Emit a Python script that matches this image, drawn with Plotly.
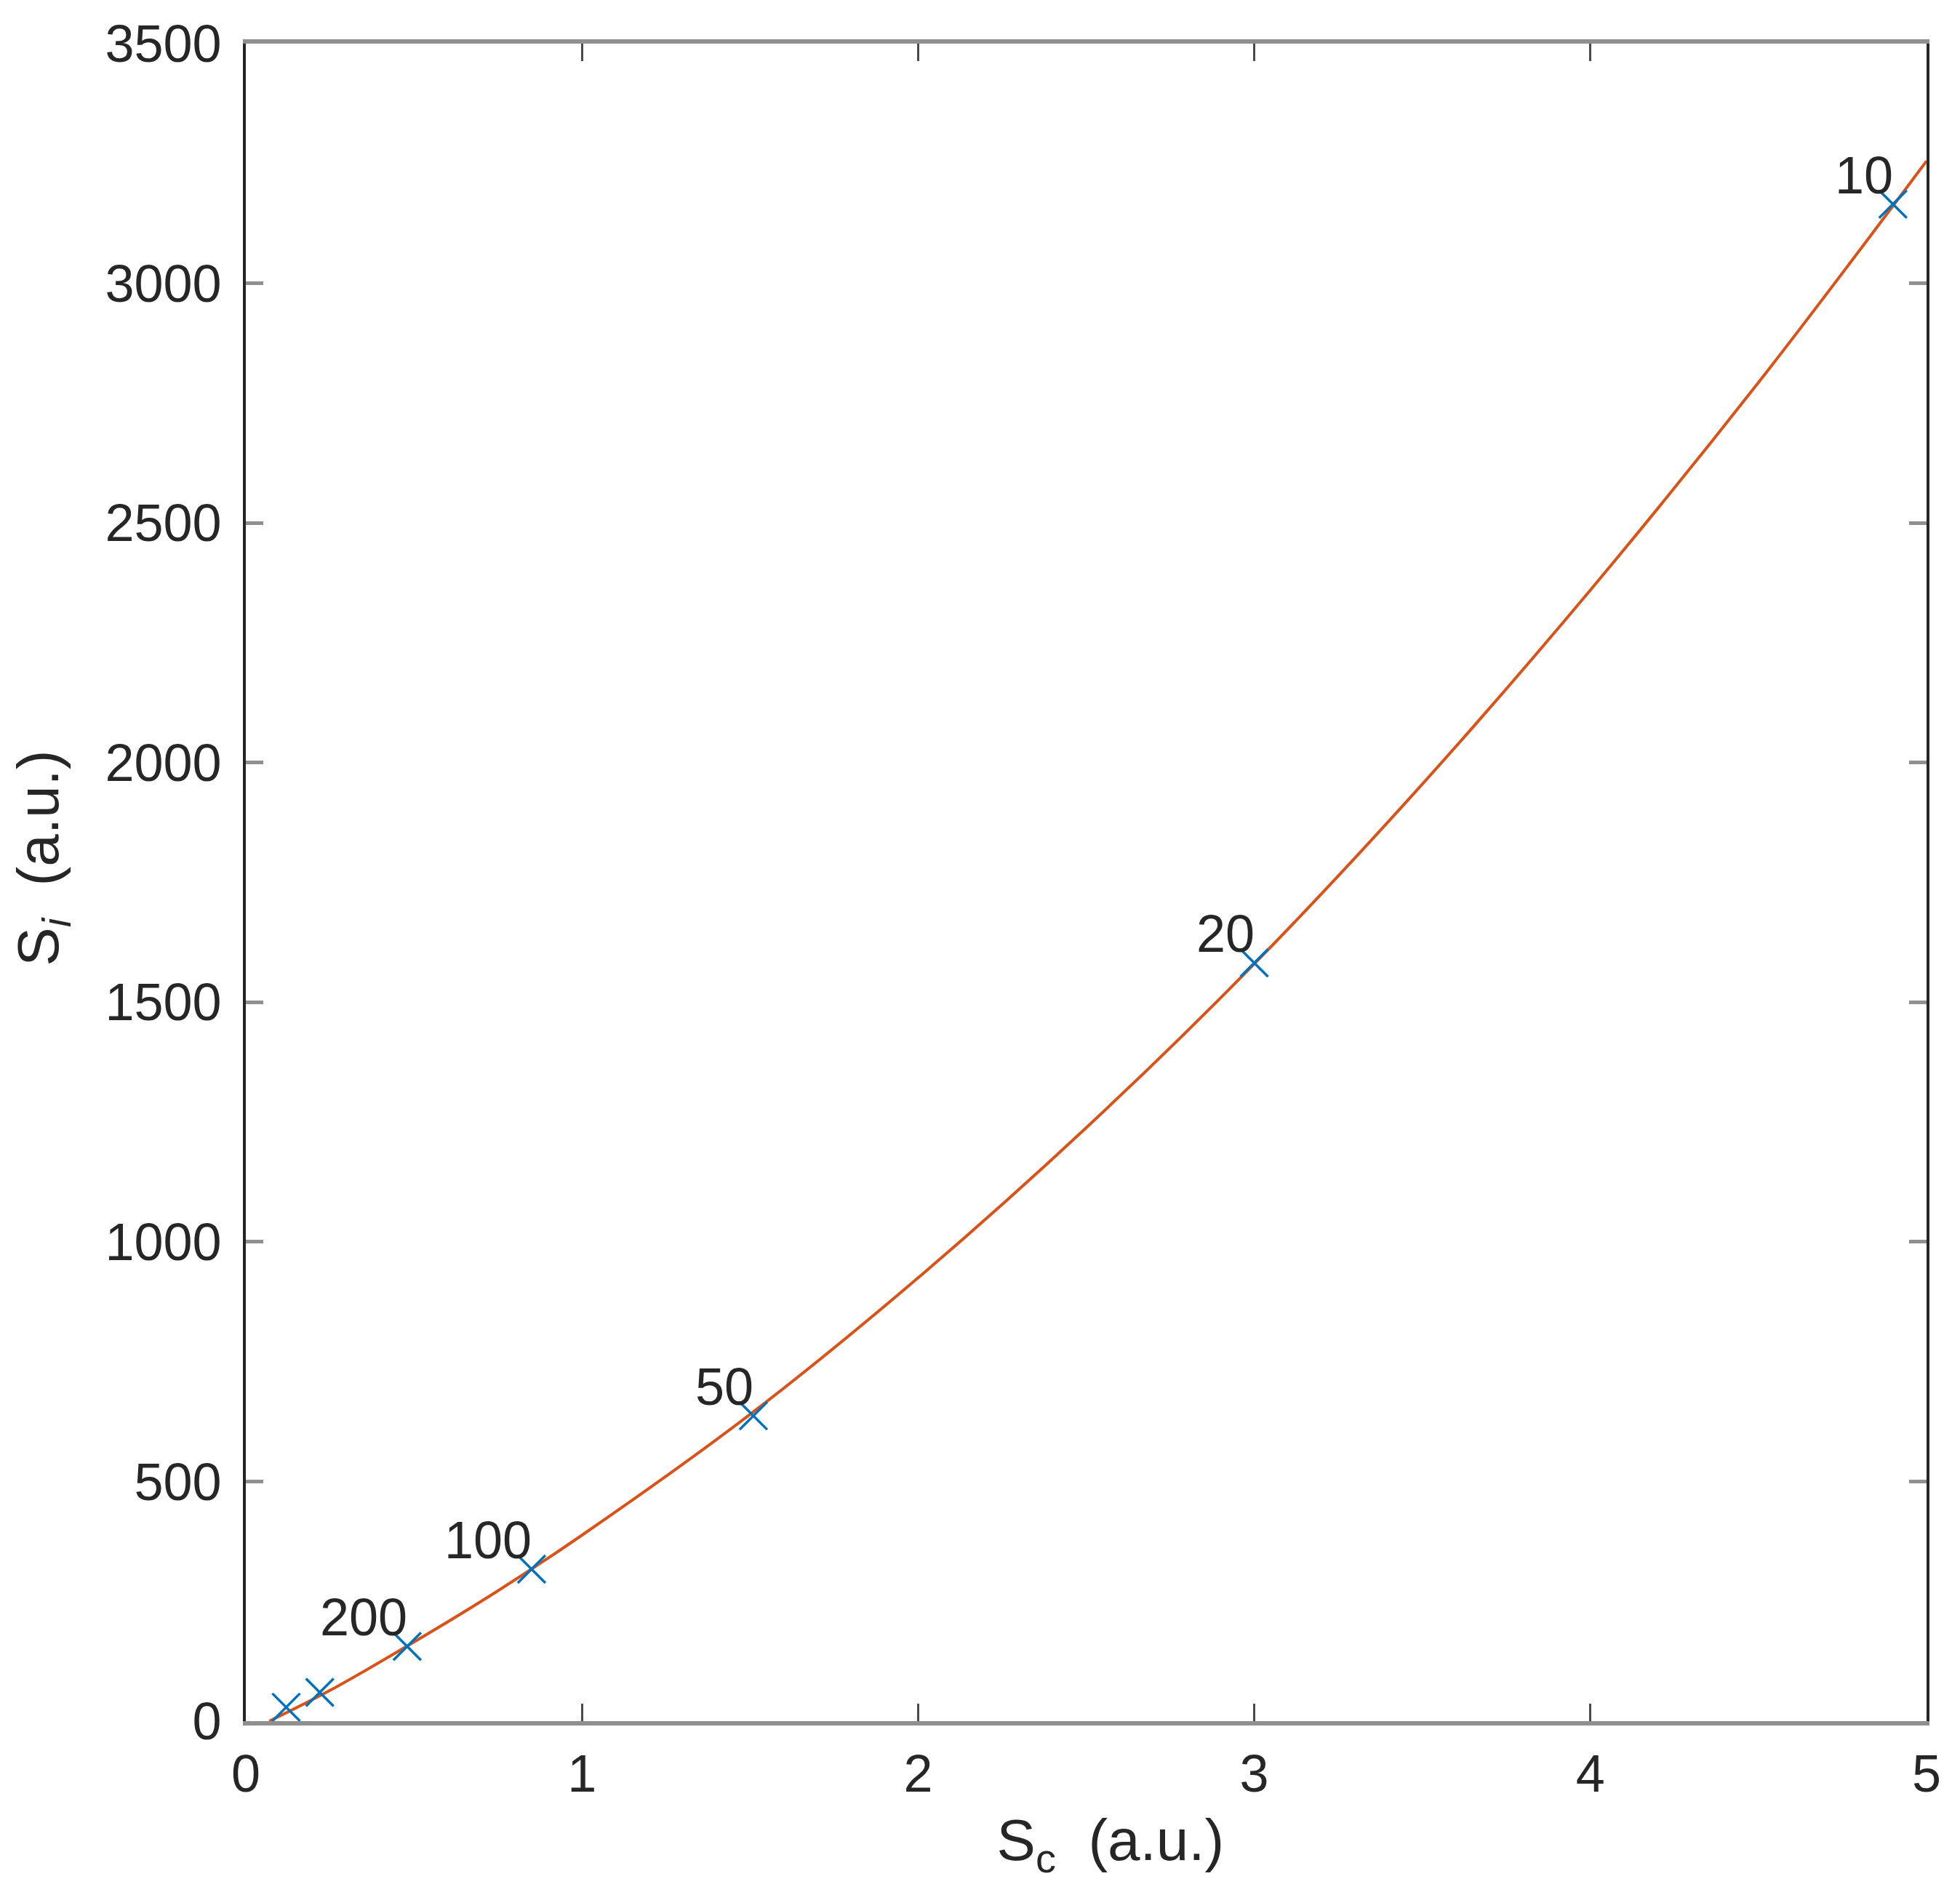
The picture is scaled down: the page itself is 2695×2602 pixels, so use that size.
import plotly.graph_objects as go

# Measured points (Sc, Si) and their labels
sc_points = [4.90, 3.00, 1.51, 0.85, 0.48, 0.22, 0.12]
si_points = [3165, 1582, 637, 317, 156, 60, 29]
point_labels = ["10", "20", "50", "100", "200", "", ""]

# Fitted curve
sc_curve = [0.07, 0.25, 0.5, 0.75, 1.0, 1.5, 2.0, 2.5, 3.0, 3.5, 4.0, 4.5, 5.0]
si_curve = [0, 64, 165, 272, 388, 640, 925, 1238, 1580, 1955, 2360, 2793, 3255]

x_ticks = [0, 1, 2, 3, 4, 5]
y_ticks = [0, 500, 1000, 1500, 2000, 2500, 3000, 3500]

FONT = "Liberation Sans, Arial, Helvetica, sans-serif"
TXT = "#262626"
TICK_SIZE = 72
TITLE_SIZE = 80

fig = go.Figure()
fig.add_trace(go.Scatter(
    x=sc_curve, y=si_curve, mode="lines", line_shape="spline",
    line=dict(color="#D95319", width=4), showlegend=False, hoverinfo="skip"))
fig.add_trace(go.Scatter(
    x=sc_points, y=si_points, mode="markers",
    marker=dict(symbol="x-thin", size=38, line=dict(color="#0072BD", width=3.5)),
    showlegend=False))

for x, y, t in zip(sc_points, si_points, point_labels):
    if t:
        fig.add_annotation(x=x, y=y, text=t, showarrow=False, xanchor="right",
                           yanchor="middle", yshift=40, xshift=2,
                           font=dict(family=FONT, size=TICK_SIZE, color=TXT))

fig.update_layout(
    width=2695, height=2602,
    margin=dict(l=330, r=54, t=50, b=243, pad=0),
    paper_bgcolor="white", plot_bgcolor="white",
    font=dict(family=FONT, size=TICK_SIZE, color=TXT),
)
fig.update_xaxes(
    range=[0, 5], tickvals=x_ticks, ticktext=[str(v) for v in x_ticks],
    showgrid=False, zeroline=False,
    showline=True, linecolor="#8f8f8f", linewidth=6, mirror="ticks",
    ticks="inside", ticklen=24, tickwidth=3, tickcolor="#4a4a4a",
    ticklabelstandoff=5,
    tickfont=dict(family=FONT, size=TICK_SIZE, color=TXT),
    title=dict(text="&nbsp;&nbsp;&nbsp;S<sub>c</sub>&nbsp;&nbsp;(a.u.)", standoff=26,
               font=dict(family=FONT, size=TITLE_SIZE, color=TXT)),
)
fig.update_yaxes(
    range=[0, 3500], tickvals=y_ticks, ticktext=[str(v) for v in y_ticks],
    showgrid=False, zeroline=False,
    showline=True, linecolor="#262626", linewidth=4, mirror="ticks",
    ticks="inside", ticklen=24, tickwidth=5, tickcolor="#8f8f8f",
    ticklabelstandoff=15,
    tickfont=dict(family=FONT, size=TICK_SIZE, color=TXT),
    title=dict(text="&nbsp;&nbsp;&nbsp;S<sub><i>i</i></sub>&nbsp;&nbsp;(a.u.)", standoff=40,
               font=dict(family=FONT, size=TITLE_SIZE, color=TXT)),
)

fig.write_html("out.html")
